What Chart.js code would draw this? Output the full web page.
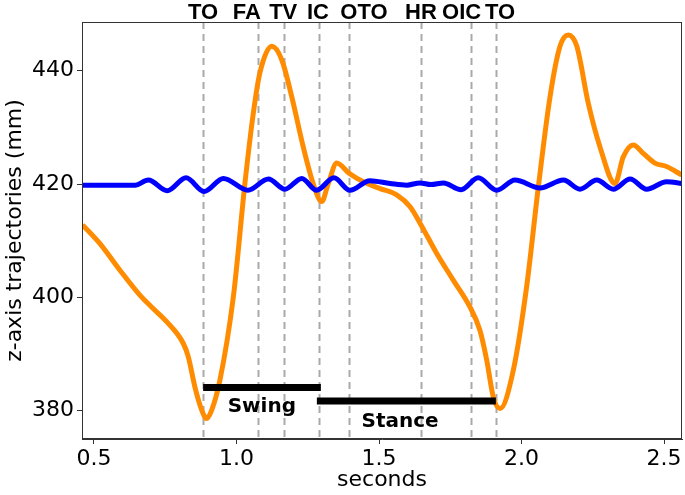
<!DOCTYPE html>
<html>
<head>
<meta charset="utf-8">
<script src="https://cdn.jsdelivr.net/npm/chart.js@4"></script>
<style>
  html, body { margin: 0; padding: 0; background: #fff; }
  #gaitChart { display: block; }
</style>
</head>
<body>
<canvas id="gaitChart" width="685" height="495"></canvas>
<script>
// orange trace: left foot z position (mm)
const orangeT = [0.460, 0.521, 0.591, 0.661, 0.702, 0.755, 0.813, 0.831, 0.854, 0.878, 0.895, 0.913, 0.942,
    0.989, 1.030, 1.059, 1.082, 1.124, 1.159, 1.194, 1.234, 1.269, 1.299, 1.322, 1.352, 1.395, 1.445, 1.504,
    1.562, 1.609, 1.644, 1.702, 1.761, 1.819, 1.854, 1.878, 1.901, 1.925, 1.971, 2.018, 2.059, 2.100, 2.135,
    2.164, 2.194, 2.234, 2.275, 2.328, 2.357, 2.392, 2.427, 2.468, 2.509, 2.562];
const orangeZ = [412.8, 409.5, 404.8, 400.4, 398.3, 395.7, 391.9, 389.5, 384.2, 380.1, 378.6, 380.1, 385.4,
    400.1, 420.3, 432.5, 439.6, 444.3, 441.9, 435.4, 426.6, 420.1, 416.9, 420.1, 423.7, 421.9, 420.4, 419.2,
    418.1, 416.0, 413.1, 407.8, 403.0, 398.3, 394.2, 388.9, 382.4, 380.4, 387.1, 401.9, 419.5, 435.4, 444.3,
    446.3, 444.3, 434.3, 426.6, 420.1, 424.8, 426.9, 425.4, 423.7, 423.1, 421.6];

// blue trace: pelvis z position (mm)
const blueT = [0.458, 0.644, 0.691, 0.757, 0.823, 0.886, 0.954, 1.040, 1.112, 1.170, 1.229, 1.281, 1.342,
    1.398, 1.468, 1.539, 1.597, 1.644, 1.682, 1.726, 1.788, 1.848, 1.913, 1.977, 2.065, 2.147, 2.205, 2.264,
    2.322, 2.381, 2.439, 2.509, 2.563];
const blueZ = [419.8, 419.8, 420.7, 418.8, 421.1, 418.7, 421.0, 418.9, 420.9, 419.1, 421.0, 418.9, 421.1,
    418.9, 420.6, 420.1, 419.8, 420.2, 419.9, 420.2, 419.0, 421.1, 418.9, 420.7, 419.3, 420.7, 419.1, 420.7,
    419.1, 420.9, 419.1, 420.4, 420.1];

// gait events (line position and where its label sits)
const eventLabels = ['TO', 'FA', 'TV', 'IC', 'OTO', 'HR', 'OIC', 'TO'];
const eventTimes = [0.883, 1.076, 1.167, 1.289, 1.395, 1.646, 1.822, 1.910];
const eventLabelT = [0.883, 1.036, 1.164, 1.286, 1.447, 1.647, 1.790, 1.925];

// phase bars
const swingT = [0.883, 1.296];
const swingZ = [384.1, 384.1];
const stanceT = [1.282, 1.910];
const stanceZ = [381.7, 381.7];
const phaseLabels = ['Swing', 'Stance'];
const phaseLabelT = [1.089, 1.574];
const phaseLabelZ = [380.6, 378.0];

const xTicks = [0.5, 1.0, 1.5, 2.0, 2.5];
const yTicks = [380, 400, 420, 440];

const pts = (xs, ys) => xs.map((x, i) => ({ x: x, y: ys[i] }));

const eventsPlugin = {
    id: 'events',
    beforeDatasetsDraw(chart) {
        const { ctx, chartArea, scales } = chart;
        ctx.save();
        ctx.strokeStyle = '#aaaaaa';
        ctx.lineWidth = 2;
        ctx.setLineDash([7, 5]);
        eventTimes.forEach(t => {
            const x = Math.round(scales.x.getPixelForValue(t)) + 0.5;
            ctx.beginPath();
            ctx.moveTo(x, chartArea.top);
            ctx.lineTo(x, chartArea.bottom);
            ctx.stroke();
        });
        ctx.restore();
    },
    afterDatasetsDraw(chart) {
        const { ctx, chartArea, scales } = chart;
        ctx.save();
        // frame
        ctx.strokeStyle = '#333';
        ctx.lineWidth = 1;
        ctx.strokeRect(chartArea.left + 0.5, chartArea.top + 0.5,
            chartArea.right - chartArea.left - 1, chartArea.bottom - chartArea.top - 1);

        // phase labels
        ctx.fillStyle = '#000';
        ctx.font = 'bold 20px "DejaVu Sans"';
        ctx.textAlign = 'center';
        ctx.textBaseline = 'middle';
        phaseLabels.forEach((s, i) => {
            ctx.fillText(s, scales.x.getPixelForValue(phaseLabelT[i]), scales.y.getPixelForValue(phaseLabelZ[i]));
        });

        // event labels above the plot
        ctx.font = 'bold 22px "Liberation Sans"';
        ctx.textBaseline = 'alphabetic';
        eventLabels.forEach((s, i) => {
            ctx.fillText(s, scales.x.getPixelForValue(eventLabelT[i]), 18.5);
        });
        ctx.restore();
    }
};

const bgPlugin = {
    id: 'bg',
    beforeDraw(chart) {
        const ctx = chart.ctx;
        ctx.save();
        ctx.fillStyle = '#fff';
        ctx.fillRect(0, 0, chart.width, chart.height);
        ctx.restore();
    }
};

const tickFont = { family: 'DejaVu Sans', size: 22 };

const config = {
    type: 'line',
    data: {
        datasets: [
            {
                label: 'swing',
                data: pts(swingT, swingZ),
                borderColor: '#000',
                borderWidth: 7,
                borderCapStyle: 'butt',
                pointRadius: 0,
                order: 0
            },
            {
                label: 'stance',
                data: pts(stanceT, stanceZ),
                borderColor: '#000',
                borderWidth: 7,
                borderCapStyle: 'butt',
                pointRadius: 0,
                order: 1
            },
            {
                label: 'pelvis',
                data: pts(blueT, blueZ),
                borderColor: '#0000ff',
                borderWidth: 5,
                cubicInterpolationMode: 'monotone',
                pointRadius: 0,
                order: 2
            },
            {
                label: 'foot',
                data: pts(orangeT, orangeZ),
                borderColor: '#ff8c00',
                borderWidth: 5,
                cubicInterpolationMode: 'monotone',
                pointRadius: 0,
                order: 3
            }
        ]
    },
    options: {
        responsive: false,
        animation: false,
        layout: { padding: { top: 22, right: 3, left: 2, bottom: 0 } },
        plugins: {
            legend: { display: false },
            tooltip: { enabled: false }
        },
        scales: {
            x: {
                type: 'linear',
                min: 0.458,
                max: 2.563,
                afterBuildTicks: axis => { axis.ticks = xTicks.map(v => ({ value: v })); },
                afterFit: axis => { axis.height = 56; },
                ticks: {
                    font: tickFont,
                    color: '#000',
                    padding: 2,
                    maxRotation: 0,
                    callback: v => v.toFixed(1)
                },
                grid: { drawOnChartArea: false, tickLength: 5, color: '#333' },
                border: { color: '#333' },
                title: {
                    display: true,
                    text: 'seconds',
                    font: tickFont,
                    color: '#000',
                    padding: { top: 0, bottom: 2 }
                }
            },
            y: {
                type: 'linear',
                min: 375,
                max: 448.6,
                afterBuildTicks: axis => { axis.ticks = yTicks.map(v => ({ value: v })); },
                afterFit: axis => { axis.width = 80; },
                ticks: {
                    font: tickFont,
                    color: '#000',
                    padding: 3
                },
                grid: { drawOnChartArea: false, tickLength: 5, color: '#333' },
                border: { color: '#333' },
                title: {
                    display: true,
                    text: 'z-axis trajectories (mm)',
                    font: tickFont,
                    color: '#000',
                    padding: 0
                }
            }
        }
    },
    plugins: [bgPlugin, eventsPlugin]
};

const ctx = document.getElementById('gaitChart').getContext('2d');
const gaitChart = new Chart(ctx, config);
</script>
</body>
</html>
